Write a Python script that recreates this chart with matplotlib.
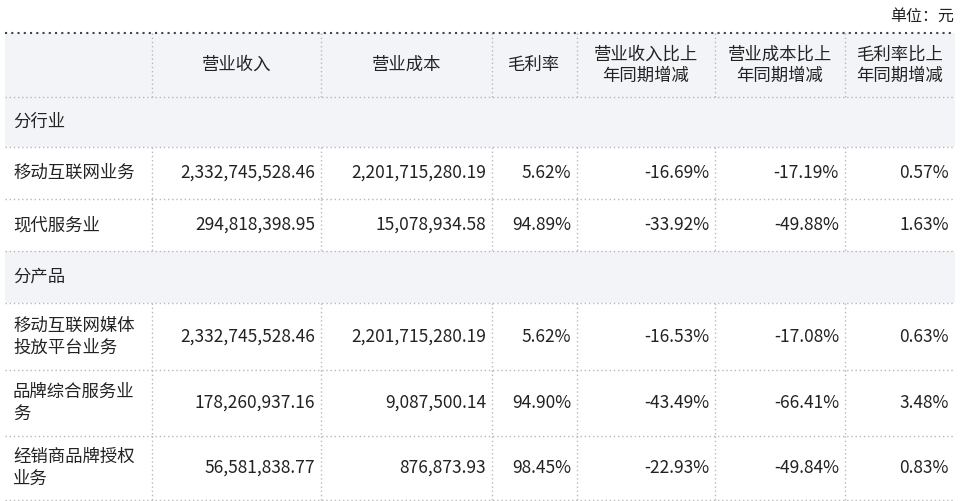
import matplotlib
matplotlib.use('Agg')
import matplotlib.pyplot as plt
from matplotlib.patches import Rectangle

plt.rcParams['font.family'] = ['Noto Sans CJK SC', 'DejaVu Sans']

headers = ['', '营业收入', '营业成本', '毛利率', '营业收入比上\n年同期增减', '营业成本比上\n年同期增减', '毛利率比上\n年同期增减']
rows = [
    ('section', '分行业'),
    ('data', ['移动互联网业务', '2,332,745,528.46', '2,201,715,280.19', '5.62%', '-16.69%', '-17.19%', '0.57%']),
    ('data', ['现代服务业', '294,818,398.95', '15,078,934.58', '94.89%', '-33.92%', '-49.88%', '1.63%']),
    ('section', '分产品'),
    ('data', ['移动互联网媒体\n投放平台业务', '2,332,745,528.46', '2,201,715,280.19', '5.62%', '-16.53%', '-17.08%', '0.63%']),
    ('data', ['品牌综合服务业\n务', '178,260,937.16', '9,087,500.14', '94.90%', '-43.49%', '-66.41%', '3.48%']),
    ('data', ['经销商品牌授权\n业务', '56,581,838.77', '876,873.93', '98.45%', '-22.93%', '-49.84%', '0.83%']),
]

col_x = [5, 152, 321, 492, 577, 715, 845, 955]
row_y = [33, 97, 147, 199, 251, 303, 370, 436, 500]

W, H = 960, 501
fig = plt.figure(figsize=(9.6, 5.01), dpi=100)
ax = fig.add_axes([0, 0, 1, 1])
ax.set_xlim(0, W)
ax.set_ylim(H, 0)
ax.axis('off')

bg = '#f2f4f8'
line_c = '#b8b8b8'
txt_c = '#222222'
fs = 12.5

ax.text(954, 16, '单位：元', ha='right', va='center', fontsize=11.5, color=txt_c)

# header
ax.add_patch(Rectangle((col_x[0], row_y[0]), col_x[-1] - col_x[0], row_y[1] - row_y[0], color=bg, lw=0))
for i, h in enumerate(headers):
    if h:
        ax.text((col_x[i] + col_x[i + 1]) / 2, (row_y[0] + row_y[1]) / 2, h, ha='center', va='center',
                fontsize=fs, color=txt_c, linespacing=1.2)

for r, (kind, content) in enumerate(rows):
    y0, y1 = row_y[r + 1], row_y[r + 2]
    yc = (y0 + y1) / 2
    if kind == 'section':
        ax.add_patch(Rectangle((col_x[0], y0), col_x[-1] - col_x[0], y1 - y0, color=bg, lw=0))
        ax.text(col_x[0] + 8, yc, content, ha='left', va='center', fontsize=fs, color=txt_c)
    else:
        for i, v in enumerate(content):
            if i == 0:
                ax.text(col_x[0] + 8, yc, v, ha='left', va='center', fontsize=fs, color=txt_c, linespacing=1.3)
            else:
                ax.text(col_x[i + 1] - 6, yc, v, ha='right', va='center', fontsize=fs, color=txt_c)
        for x in col_x[1:-1]:
            ax.plot([x, x], [y0, y1], color=line_c, lw=1, ls=(0, (1, 2)))

# header vertical lines
for x in col_x[1:-1]:
    ax.plot([x, x], [row_y[0], row_y[1]], color=line_c, lw=1, ls=(0, (1, 2)))

# horizontal lines
ax.plot([col_x[0], col_x[-1]], [row_y[0], row_y[0]], color='#444444', lw=1.5, ls=(0, (1, 2)))
for y in row_y[1:]:
    ax.plot([col_x[0], col_x[-1]], [y, y], color=line_c, lw=1, ls=(0, (1, 2)))

fig.savefig('out.png', dpi=100)
